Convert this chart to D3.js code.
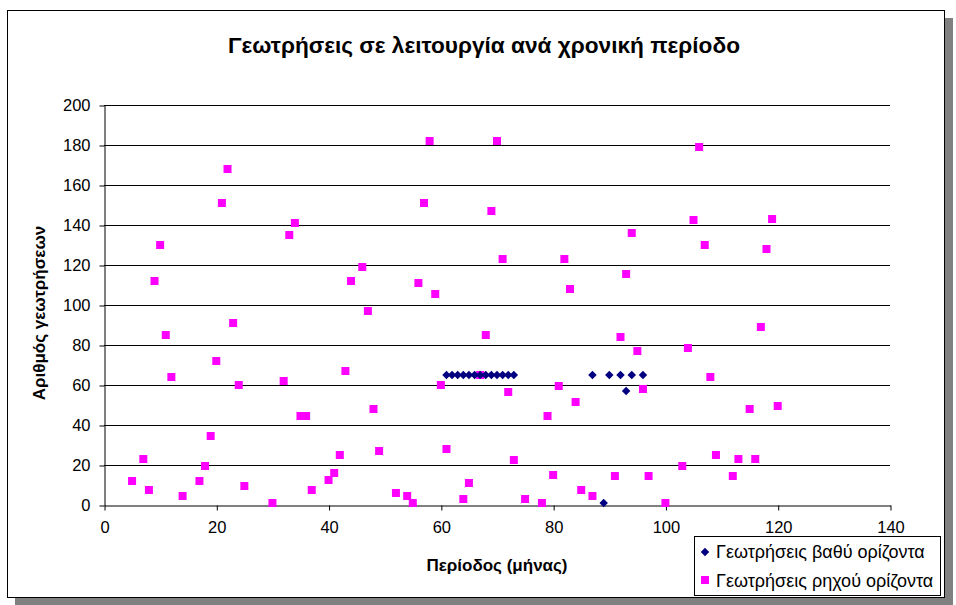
<!DOCTYPE html>
<html>
<head>
<meta charset="utf-8">
<script src="https://cdn.jsdelivr.net/npm/d3@7"></script>
<style>
  html, body { margin: 0; padding: 0; background: #fff; }
  svg { display: block; }
  text { font-family: "Liberation Sans", Arial, sans-serif; fill: #000; }
</style>
</head>
<body>
<svg id="chart" width="956" height="605"></svg>
<script>
// Deep-horizon wells: month and count
const deepMonths = [61, 62, 63, 64, 65, 66, 67, 68, 69, 70, 71, 72, 73, 87, 89, 90, 92, 93, 94, 96];
const deepCounts = [65, 65, 65, 65, 65, 65, 65, 65, 65, 65, 65, 65, 65, 65, 1, 65, 65, 57, 65, 65];

// Shallow-horizon wells: month and count
const shallowMonths = [5, 7, 8, 9, 10, 11, 12, 14, 17, 18, 19, 20, 21, 22, 23, 24, 25, 30, 32, 33, 34, 35, 36, 37,
  40, 41, 42, 43, 44, 46, 47, 48, 49, 52, 54, 55, 56, 57, 58, 59, 60, 61, 64, 65, 67, 68, 69, 70, 71, 72, 73,
  75, 78, 79, 80, 81, 82, 83, 84, 85, 87, 91, 92, 93, 94, 95, 96, 97, 100, 103, 104, 105, 106, 107, 108, 109,
  112, 113, 115, 116, 117, 118, 119, 120];
const shallowCounts = [12, 23, 7.5, 112, 130, 85, 64, 4.5, 12, 19.5, 34.5, 72, 151, 168, 91, 60, 9.5, 1, 62, 135, 141, 44.5, 44.5, 7.5,
  12.5, 16, 25, 67, 112, 119, 97, 48, 27, 6, 4.5, 1, 111, 151, 182, 105.5, 60, 28, 3, 11, 65, 85, 147, 182, 123, 56.5, 22.5,
  3, 1, 44.5, 15, 59.5, 123, 108, 51.5, 7.5, 4.5, 14.5, 84, 115.5, 136, 77, 58, 14.5, 1, 19.5, 78.5, 142.5, 179, 130, 64, 25,
  14.5, 23, 48, 23, 89, 128, 143, 49.5];

const xTicks = [0, 20, 40, 60, 80, 100, 120, 140];
const yTicks = [0, 20, 40, 60, 80, 100, 120, 140, 160, 180, 200];

const titleText = "Γεωτρήσεις σε λειτουργία ανά χρονική περίοδο";
const xTitle = "Περίοδος (μήνας)";
const yTitle = "Αριθμός γεωτρήσεων";
const seriesNames = ["Γεωτρήσεις βαθύ ορίζοντα", "Γεωτρήσεις ρηχού ορίζοντα"];
const seriesColors = ["#000080", "#FF00FF"];

const svg = d3.select("#chart");

// Chart area with drop shadow
svg.append("rect").attr("x", 15).attr("y", 18).attr("width", 938).attr("height", 587).attr("fill", "#808080");
svg.append("rect").attr("x", 7.5).attr("y", 10.5).attr("width", 937).attr("height", 587)
  .attr("fill", "#fff").attr("stroke", "#000").attr("stroke-width", 1);

const x = d3.scaleLinear().domain([0, 140]).range([104, 890]);
const y = d3.scaleLinear().domain([0, 200]).range([505, 105]);

// Horizontal gridlines
svg.append("g").selectAll("line").data(yTicks.filter(d => d > 0)).join("line")
  .attr("x1", x(0)).attr("x2", x(140))
  .attr("y1", d => Math.round(y(d)) + 0.5).attr("y2", d => Math.round(y(d)) + 0.5)
  .attr("stroke", "#000").attr("stroke-width", 1);

// Axes
const yAxis = svg.append("g").attr("transform", `translate(${x(0) + 0.5},0.5)`)
  .call(d3.axisLeft(y).tickValues(yTicks).tickSize(5).tickPadding(9).tickSizeOuter(0));
const xAxis = svg.append("g").attr("transform", `translate(0.5,${y(0) + 0.5})`)
  .call(d3.axisBottom(x).tickValues(xTicks).tickSize(5).tickPadding(11).tickSizeOuter(0));
[yAxis, xAxis].forEach(g => {
  g.selectAll("path, line").attr("stroke", "#000");
  g.selectAll("text").style("font-size", "16.5px").attr("fill", "#000");
});

// Markers
const sq = 8;
svg.append("g").selectAll("rect").data(shallowMonths.map((m, i) => [m, shallowCounts[i]])).join("rect")
  .attr("x", d => x(d[0]) - sq / 2).attr("y", d => y(d[1]) - sq / 2)
  .attr("width", sq).attr("height", sq).attr("fill", seriesColors[1]);

const diamond = d3.symbol().type(d3.symbolDiamond2).size(46);
svg.append("g").selectAll("path").data(deepMonths.map((m, i) => [m, deepCounts[i]])).join("path")
  .attr("d", diamond)
  .attr("transform", d => `translate(${x(d[0])},${y(d[1])})`)
  .attr("fill", seriesColors[0]);

// Titles
svg.append("text").attr("x", 484).attr("y", 53).attr("text-anchor", "middle")
  .attr("textLength", 512).attr("lengthAdjust", "spacingAndGlyphs")
  .style("font-size", "22px").style("font-weight", "bold").text(titleText);
svg.append("text").attr("x", 497).attr("y", 571).attr("text-anchor", "middle")
  .style("font-size", "17px").style("font-weight", "bold").text(xTitle);
svg.append("text").attr("transform", "translate(45,313) rotate(-90)").attr("text-anchor", "middle")
  .style("font-size", "17px").style("font-weight", "bold").text(yTitle);

// Legend
const lg = svg.append("g");
lg.append("rect").attr("x", 694.5).attr("y", 536.5).attr("width", 246).attr("height", 59)
  .attr("fill", "#fff").attr("stroke", "#000");
lg.append("path").attr("d", diamond).attr("transform", "translate(705,552)").attr("fill", seriesColors[0]);
lg.append("rect").attr("x", 701).attr("y", 576).attr("width", sq).attr("height", sq).attr("fill", seriesColors[1]);
seriesNames.forEach((n, i) => {
  lg.append("text").attr("x", 716).attr("y", 558 + i * 29).style("font-size", "18px").text(n);
});
</script>
</body>
</html>
